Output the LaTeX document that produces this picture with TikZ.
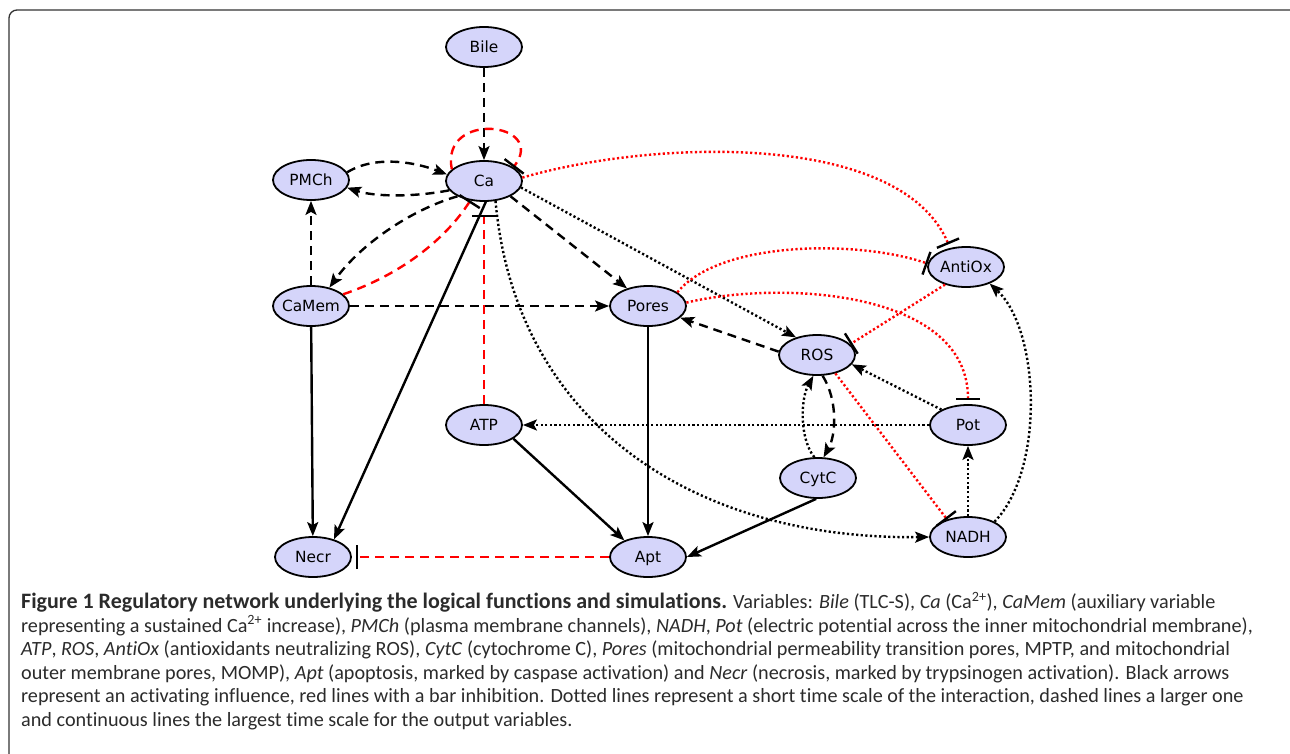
\documentclass[tikz,border=0pt]{standalone}
\usepackage{fontspec}
\setmainfont{Carlito}[Ligatures=CommonOff]
\newfontfamily\nodefont{DejaVu Sans}
\usepackage{xcolor}
\usepackage{tikz}
\usetikzlibrary{arrows.meta,shapes.geometric}
\definecolor{netfill}{HTML}{D5D5FA}
\definecolor{netred}{HTML}{FF0000}
\definecolor{captext}{HTML}{2B2B2B}

\begin{document}
\begin{tikzpicture}[
  x=1pt, y=-1pt,
  var/.style={ellipse, draw, line width=1.8pt, fill=netfill,
              minimum width=76pt, minimum height=40pt,
              inner xsep=-4pt, inner ysep=0pt, text height=11pt, text depth=0pt,
              font=\nodefont\fontsize{15.4}{18}\selectfont},
  link/.style={line width=2.4pt},
  act/.style={link, black, -{Stealth[length=14pt, width=11pt, inset=3pt]}},
  inh/.style={link, netred, -{Bar[width=24pt, line width=2.4pt, color=black]}},
  dashline/.style={dash pattern=on 9pt off 6pt},
  dotline/.style={dash pattern=on 2.2pt off 2.4pt},
  figframe/.style={draw=black!80, line width=1.3pt, rounded corners=8pt},
  caption/.style={align=left, inner sep=0pt, text=captext,
                  font=\fontsize{20.2}{23.5}\selectfont}
]
\useasboundingbox (0,0) rectangle (1290,754);
\draw[figframe] (9,10) rectangle (1300,790);

\node[var] (Bile) at (484,47) {Bile};
\node[var] (Ca) at (484,181) {Ca};
\node[var] (PMCh) at (311,180) {PMCh};
\node[var] (CaMem) at (311,306) {CaMem};
\node[var] (Pores) at (648,306) {Pores};
\node[var] (AntiOx) at (966,267) {AntiOx};
\node[var] (ROS) at (817,355) {ROS};
\node[var] (ATP) at (484,425) {ATP};
\node[var] (Pot) at (968,425) {Pot};
\node[var] (CytC) at (818,478) {CytC};
\node[var] (Necr) at (313,557) {Necr};
\node[var] (Apt) at (648,557) {Apt};
\node[var] (NADH) at (968,537) {NADH};

% calcium module
\draw[act, dashline] (Bile) -- (Ca);
\draw[inh, dashline] (Ca.160) .. controls (440,110) and (548,122) .. (Ca.25);
\draw[act, dashline] (PMCh.12) .. controls (375,155) and (415,162) .. (Ca.170);
\draw[act, dashline] (Ca.195) .. controls (415,197) and (375,197) .. (PMCh.-12);
\draw[act, dashline] (CaMem) -- (PMCh);
\draw[act, dashline] (Ca.210) .. controls (410,210) and (360,245) .. (CaMem.45);
\draw[inh, dashline] (CaMem.20) .. controls (400,275) and (445,240) .. (Ca.235);
\draw[inh, dashline, shorten >=13pt] (ATP) -- (Ca);
\draw[act] (Ca.275) -- (Necr.40);
\draw[act, dashline] (Ca.-30) -- (Pores.140);
\draw[act, dotline] (Ca.-10) -- (ROS.140);
\draw[act, dotline] (Ca.300) .. controls (515,420) and (690,540) .. (NADH.west);
\draw[inh, dotline, shorten >=4pt] (Ca.5) .. controls (650,140) and (900,130) .. (AntiOx.130);
\draw[act, dashline] (CaMem) -- (Pores);
\draw[act] (CaMem) -- (Necr);

% mitochondria
\draw[inh, dotline] (Pores.25) .. controls (720,240) and (860,240) .. (AntiOx.175);
\draw[inh, dotline, shorten >=4pt] (Pores.5) .. controls (780,280) and (968,290) .. (Pot.north);
\draw[act, dashline] (ROS.175) -- (Pores.-20);
\draw[act] (Pores) -- (Apt);
\draw[inh, dotline] (AntiOx.220) -- (ROS.18);
\draw[inh, dotline] (ROS.-45) -- (NADH.140);
\draw[act, dotline] (Pot.150) -- (ROS.-15);
\draw[act, dotline] (Pot) -- (ATP);
\draw[act, dashline] (ROS.-75) .. controls (838,400) and (836,435) .. (CytC.75);
\draw[act, dotline] (CytC.100) .. controls (800,440) and (800,400) .. (ROS.-100);
\draw[act] (CytC.-95) -- (Apt.east);
\draw[act] (ATP.-25) -- (Apt.145);
\draw[inh, dashline, shorten >=4pt] (Apt) -- (Necr);
\draw[act, dotline] (NADH) -- (Pot);
\draw[act, dotline] (NADH.30) .. controls (1045,470) and (1040,330) .. (AntiOx.-35);

\node[caption, anchor=north west] (cap) at (21,592)
  {{\fontsize{22}{23.5}\selectfont\bfseries Figure 1 Regulatory network underlying the logical functions and simulations.} Variables: \textit{Bile} (TLC-S), \textit{Ca} (Ca\textsuperscript{2+}), \textit{CaMem} (auxiliary variable\\
   representing a sustained Ca\textsuperscript{2+} increase), \textit{PMCh} (plasma membrane channels), \textit{NADH}, \textit{Pot} (electric potential across the inner mitochondrial membrane),\\
   \textit{ATP}, \textit{ROS}, \textit{AntiOx} (antioxidants neutralizing ROS), \textit{CytC} (cytochrome C), \textit{Pores} (mitochondrial permeability transition pores, MPTP, and mitochondrial\\
   outer membrane pores, MOMP), \textit{Apt} (apoptosis, marked by caspase activation) and \textit{Necr} (necrosis, marked by trypsinogen activation). Black arrows\\
   represent an activating influence, red lines with a bar inhibition. Dotted lines represent a short time scale of the interaction, dashed lines a larger one\\
   and continuous lines the largest time scale for the output variables.};
\end{tikzpicture}
\end{document}
